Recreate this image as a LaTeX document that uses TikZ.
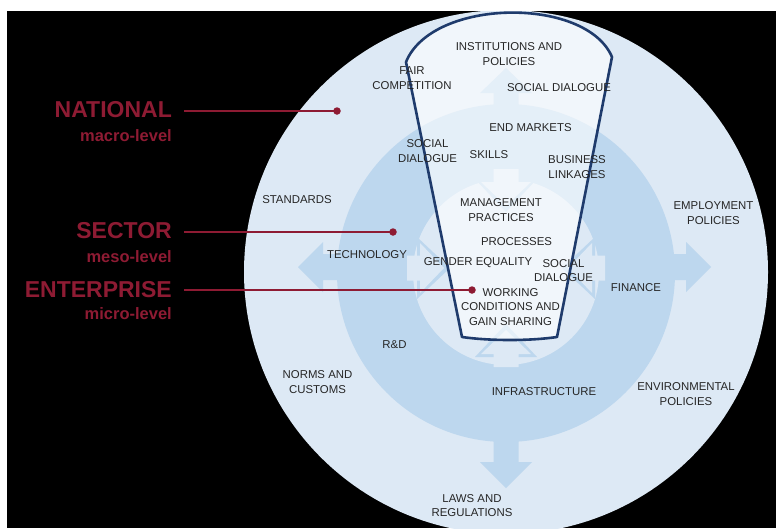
\documentclass[tikz,border=0pt]{standalone}
\usepackage{fontspec}
\setmainfont{Liberation Sans}
\begin{document}
\begin{tikzpicture}[x=1pt,y=-1pt]
\definecolor{outerc}{HTML}{DDE9F5}
\definecolor{midc}{HTML}{BDD7EE}
\definecolor{navy}{HTML}{1F3B6C}
\definecolor{darkred}{HTML}{8E1B33}
\definecolor{txt}{HTML}{262626}
\tikzset{
  lbl/.style={font=\fontsize{11.4}{14.5}\selectfont, text=txt, align=center, inner sep=0pt},
  lvl/.style={font=\fontsize{23}{23}\selectfont\bfseries, text=darkred, anchor=base east, inner sep=0pt},
  sublvl/.style={font=\fontsize{16.5}{16.5}\selectfont\bfseries, text=darkred, anchor=base east, inner sep=0pt},
  leader/.style={draw=darkred, line width=2pt},
  dotc/.style={circle, fill=darkred, minimum size=7.5pt, inner sep=0pt},
}
\useasboundingbox (0,0) rectangle (776,528);
\fill[white] (0,0) rectangle (776,528);
\fill[black] (7,11) rectangle (776,528);
\begin{scope}
\clip (7,11) rectangle (776,528);
\fill[outerc] (506,272) circle[radius=262pt];
% big cross of double arrows
\fill[midc] (506,68) -- (532,93) -- (518.5,93) -- (518.5,462) -- (532,462) -- (506,488) -- (480,462) -- (493.5,462) -- (493.5,93) -- (480,93) -- cycle;
\fill[midc] (298,267) -- (323,242) -- (323,254) -- (686,254) -- (686,242) -- (711,267) -- (686,292) -- (686,280) -- (323,280) -- (323,292) -- cycle;
\fill[midc] (506,273) circle[radius=169pt];
% inner circle
\fill[outerc] (506,272) circle[radius=93pt];
% inner arrows: medium inward heads, light arrows on top
\begin{scope}[shift={(506,268)}]
\foreach \a in {0,90,180,270}{
  \fill[midc, rotate=\a] (0,56) -- (31,89) -- (-31,89) -- cycle;
  \fill[outerc, rotate=\a]
    (0,62) -- (25,86) -- (12.5,86) -- (12.5,99) -- (-12.5,99) -- (-12.5,86) -- (-25,86) -- cycle;
}
\end{scope}
\end{scope}
% funnel
\filldraw[fill=white, fill opacity=0.6, draw=navy, line width=2.6pt, line join=round]
  (406,62) .. controls (432,-2) and (586,-4) .. (612,57)
  -- (557,337) .. controls (530,341) and (490,341) .. (462,337) -- cycle;
% labels
\node[lbl] (inst) at (509,54) {INSTITUTIONS AND\\POLICIES};
\node[lbl] (fair) at (412,78) {FAIR\\COMPETITION};
\node[lbl] (sdtop) at (559,88) {SOCIAL DIALOGUE};
\node[lbl] (endm) at (530.5,128) {END MARKETS};
\node[lbl] (sdleft) at (427.5,151) {SOCIAL\\DIALOGUE};
\node[lbl] (skills) at (489,155) {SKILLS};
\node[lbl] (bus) at (577,167) {BUSINESS\\LINKAGES};
\node[lbl] (std) at (297,199.5) {STANDARDS};
\node[lbl] (mgmt) at (501,210) {MANAGEMENT\\PRACTICES};
\node[lbl] (empl) at (713.5,213) {EMPLOYMENT\\POLICIES};
\node[lbl] (proc) at (516.5,241.5) {PROCESSES};
\node[lbl] (tech) at (367,255) {TECHNOLOGY};
\node[lbl] (gender) at (478,263) {GENDER EQUALITY};
\node[lbl] (sdright) at (563.5,270.5) {SOCIAL\\DIALOGUE};
\node[lbl] (fin) at (636,288) {FINANCE};
\node[lbl] (work) at (510.5,307) {WORKING\\CONDITIONS AND\\GAIN SHARING};
\node[lbl] (rd) at (394.5,345) {R\&D};
\node[lbl] (norms) at (317.5,382) {NORMS AND\\CUSTOMS};
\node[lbl] (infra) at (544,392) {INFRASTRUCTURE};
\node[lbl] (env) at (686,394) {ENVIRONMENTAL\\POLICIES};
\node[lbl] (laws) at (472,505.5) {LAWS AND\\REGULATIONS};
% level labels
\node[lvl] (nat) at (172,117) {NATIONAL};
\node[sublvl] (macro) at (172,141) {macro-level};
\node[lvl] (sec) at (172,238.5) {SECTOR};
\node[sublvl] (meso) at (172,262) {meso-level};
\node[lvl] (ent) at (172,297) {ENTERPRISE};
\node[sublvl] (micro) at (172,319.5) {micro-level};
\coordinate (natS) at (184,111);
\coordinate (secS) at (184,232);
\coordinate (entS) at (184,290);
\node[dotc] (natD) at (337,111) {};
\node[dotc] (secD) at (393,232) {};
\node[dotc] (entD) at (472,290) {};
\draw[leader] (natS) -- (natD.center);
\draw[leader] (secS) -- (secD.center);
\draw[leader] (entS) -- (entD.center);
\end{tikzpicture}
\end{document}
